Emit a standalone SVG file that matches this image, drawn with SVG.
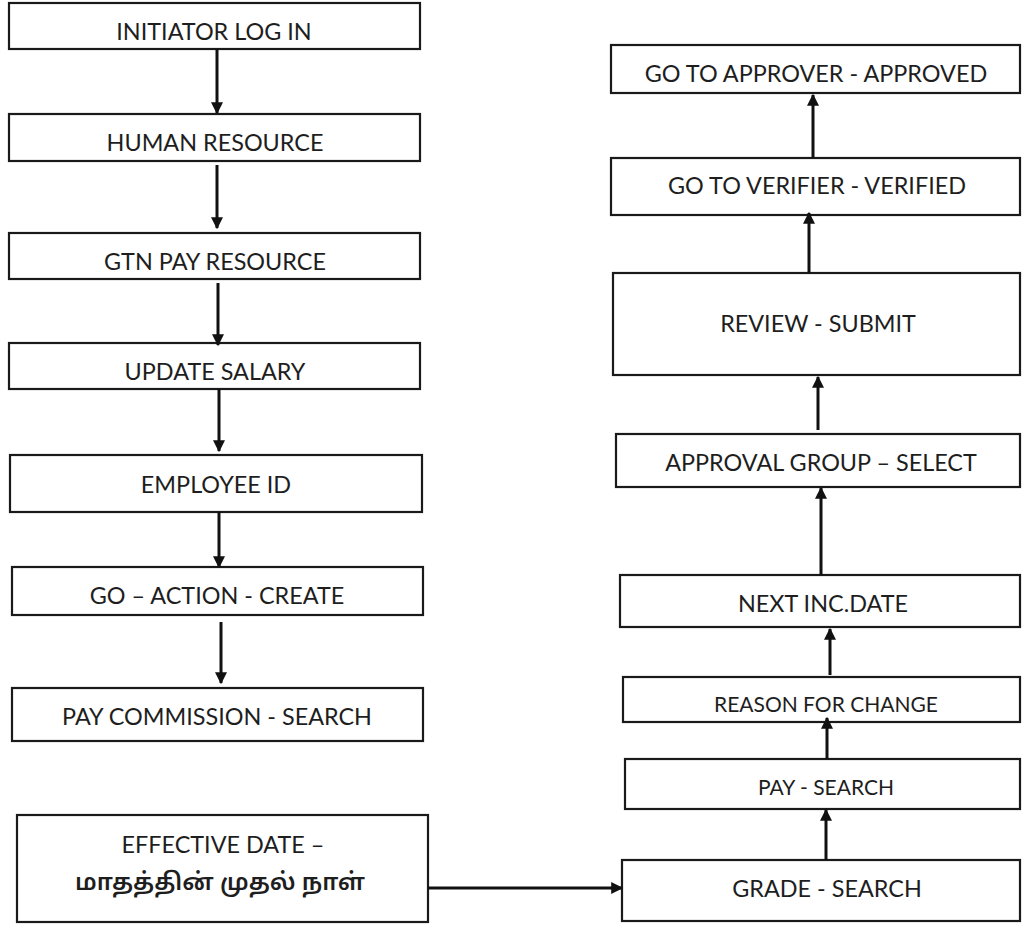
<svg xmlns="http://www.w3.org/2000/svg" width="1022" height="927" viewBox="0 0 1022 927">
  <style>
    .box { fill: #ffffff; stroke: #1a1a1a; stroke-width: 2.2; }
    .lbl { font-family: Lato, "Open Sans", sans-serif; font-size: 23.4px; fill: #1e1e1e; text-anchor: middle; }
    .sm { font-size: 21px; }
    .ta { font-family: "Noto Sans Tamil", "Noto Sans", Lato, sans-serif; font-size: 24px; font-weight: 600; fill: #1e1e1e; text-anchor: middle; }
    .edge { stroke: #111111; stroke-width: 3; fill: none; marker-end: url(#head); }
  </style>
  <defs>
    <marker id="head" viewBox="0 0 10 10" refX="9" refY="5" markerWidth="4.3" markerHeight="4" orient="auto" markerUnits="strokeWidth">
      <path d="M0,0 L10,5 L0,10 Z" fill="#111111"/>
    </marker>
  </defs>
  <rect width="1022" height="927" fill="#ffffff"/>

  <!-- left column, top to bottom -->
  <g id="initiator-log-in"><rect class="box" x="9" y="3" width="411" height="46"/><text class="lbl" x="214" y="40">INITIATOR LOG IN</text></g>
  <g id="human-resource"><rect class="box" x="9" y="114" width="411" height="47"/><text class="lbl" x="215" y="151">HUMAN RESOURCE</text></g>
  <g id="gtn-pay-resource"><rect class="box" x="9" y="233" width="411" height="46"/><text class="lbl" x="215" y="270">GTN PAY RESOURCE</text></g>
  <g id="update-salary"><rect class="box" x="9" y="343" width="411" height="46"/><text class="lbl" x="215" y="380">UPDATE SALARY</text></g>
  <g id="employee-id"><rect class="box" x="10" y="455" width="412" height="57"/><text class="lbl" x="216" y="493">EMPLOYEE ID</text></g>
  <g id="go-action-create"><rect class="box" x="12" y="567" width="411" height="48"/><text class="lbl" x="217" y="604">GO – ACTION - CREATE</text></g>
  <g id="pay-commission-search"><rect class="box" x="12" y="688" width="411" height="53"/><text class="lbl" x="217" y="725">PAY COMMISSION - SEARCH</text></g>
  <g id="effective-date"><rect class="box" x="17" y="815" width="411" height="107"/><text class="lbl" x="223" y="853">EFFECTIVE DATE –</text><text class="ta" x="220" y="890">மாதத்தின் முதல் நாள்</text></g>

  <!-- right column, bottom to top -->
  <g id="grade-search"><rect class="box" x="622" y="860" width="398" height="61"/><text class="lbl" x="827" y="897">GRADE - SEARCH</text></g>
  <g id="pay-search"><rect class="box" x="625" y="759" width="395" height="50"/><text class="lbl sm" x="826" y="795">PAY - SEARCH</text></g>
  <g id="reason-for-change"><rect class="box" x="623" y="677" width="397" height="45"/><text class="lbl sm" x="826" y="712">REASON FOR CHANGE</text></g>
  <g id="next-inc-date"><rect class="box" x="620" y="575" width="400" height="52"/><text class="lbl" x="823" y="612">NEXT INC.DATE</text></g>
  <g id="approval-group-select"><rect class="box" x="616" y="434" width="404" height="53"/><text class="lbl" x="821" y="471">APPROVAL GROUP – SELECT</text></g>
  <g id="review-submit"><rect class="box" x="613" y="273" width="407" height="102"/><text class="lbl" x="818" y="332">REVIEW - SUBMIT</text></g>
  <g id="go-to-verifier"><rect class="box" x="611" y="158" width="409" height="57"/><text class="lbl" x="817" y="194">GO TO VERIFIER - VERIFIED</text></g>
  <g id="go-to-approver"><rect class="box" x="611" y="45" width="409" height="48"/><text class="lbl" x="816" y="82">GO TO APPROVER - APPROVED</text></g>

  <!-- connectors -->
  <g id="connectors">
    <line class="edge" x1="217" y1="49" x2="217" y2="113"/>
    <line class="edge" x1="217" y1="165" x2="217" y2="228"/>
    <line class="edge" x1="218" y1="283" x2="218" y2="345"/>
    <line class="edge" x1="219" y1="389" x2="219" y2="451"/>
    <line class="edge" x1="219" y1="512" x2="219" y2="567"/>
    <line class="edge" x1="221" y1="622" x2="221" y2="683"/>
    <line class="edge" x1="428" y1="888" x2="622" y2="888"/>
    <line class="edge" x1="826" y1="860" x2="826" y2="810"/>
    <line class="edge" x1="827" y1="759" x2="827" y2="718"/>
    <line class="edge" x1="830" y1="675" x2="830" y2="629"/>
    <line class="edge" x1="821" y1="575" x2="821" y2="488"/>
    <line class="edge" x1="818" y1="430" x2="818" y2="377"/>
    <line class="edge" x1="809" y1="273" x2="809" y2="213"/>
    <line class="edge" x1="813" y1="158" x2="813" y2="95"/>
  </g>
</svg>
